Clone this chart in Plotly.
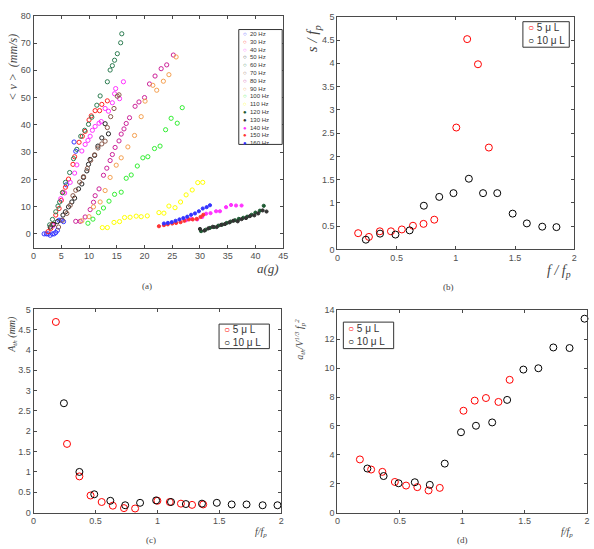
import plotly.graph_objects as go

W, H = 594, 549

# ---------------- Panel (a) data ----------------
freq_labels = ["20 Hz", "30 Hz", "40 Hz", "50 Hz", "60 Hz", "70 Hz", "80 Hz", "90 Hz",
               "100 Hz", "110 Hz", "120 Hz", "130 Hz", "140 Hz", "150 Hz", "160 Hz"]
freq_colors = ["#3333ff", "#ff2222", "#ff33ff", "#222222", "#2e7d52", "#8c5a4a", "#cc2299",
               "#f5a050", "#33ee33", "#ffff00", "#1d5a32", "#333333", "#ff33ff", "#ff3333", "#3333ff"]
freq_filled = [False] * 10 + [True] * 5

a20x = [1.9, 2.3, 2.6, 3.0, 3.4, 3.7, 4.0, 4.3, 4.6, 5.0, 5.4, 5.9, 7.3, 7.6]
a20y = [0, 0, 0, -0.5, 0, 0, 0.5, 1.3, 5, 5, 4.5, 18, 33.7, 30.3]
a30x = [2.6, 3.1, 3.4, 4.0, 4.6, 5.0, 5.3, 5.75, 6.3, 7.1, 7.4, 8.2, 8.8, 9.3, 10.0, 10.4, 11.1, 11.9, 12.3, 13.3]
a30y = [0.8, 2, 3.5, 6.9, 9.3, 12.3, 15.3, 17.1, 20.1, 25.5, 28.3, 33.6, 35.8, 37.6, 41.8, 43.3, 45.2, 45.2, 47.5, 48.8]
a40x = [3.5, 4.9, 5.6, 6.6, 7.4, 7.8, 8.7, 9.3, 9.8, 10.2, 10.6, 11.1, 11.8, 12.2, 12.9, 13.5, 14.2, 14.6, 14.8, 15.5, 16.2]
a40y = [3, 12.9, 15, 18.9, 22.3, 25.3, 30.4, 32.8, 34.3, 35.8, 38, 39.4, 40.6, 41.2, 46, 45, 48.1, 51.4, 53.3, 49.6, 55.8]
a50x = [3.0, 3.6, 4.3, 5.3, 5.75, 6.3, 6.9, 7.4, 8.1, 8.7, 9.0, 9.6, 9.9, 10.2, 11.0, 11.6, 12.3, 12.9, 13.5]
a50y = [2.5, 3.5, 4.5, 6.9, 8.1, 9.9, 11.7, 13.1, 16.5, 18.3, 20.7, 23.1, 25.5, 27.3, 28.8, 32.2, 35.2, 40.4, 36.7]
a60x = [2.9, 3.4, 4.0, 4.4, 4.7, 5.2, 5.75, 6.5, 7.2, 7.8, 8.5, 9.2, 9.9, 10.5, 11.4, 12.0, 13.3, 13.8, 14.2, 14.6, 15.1, 15.7, 15.9]
a60y = [3.3, 5.3, 8.1, 10.2, 11.7, 15.1, 18.9, 22.5, 27.6, 31, 35.8, 38, 40.2, 42.8, 47.2, 50.6, 55.8, 60.1, 61.7, 63.7, 66.1, 70.1, 73.4]
a70x = [4.5, 5.2, 6.0, 6.6, 7.1, 7.6, 8.3, 9.0, 9.7, 10.3, 11.0, 11.6, 12.3, 12.9, 13.3, 13.9, 14.5, 15.1, 15.4]
a70y = [2.5, 5, 7.5, 10.5, 14, 16, 19, 21, 24, 27, 29, 31.5, 33, 34, 39, 43, 46, 50.5, 51]
a80x = [7.6, 8.4, 9.3, 10.2, 10.8, 11.1, 11.8, 12.6, 13.2, 13.8, 14.2, 14.7, 15.4, 15.8, 16.3, 16.7, 17.3, 18.3, 19.0, 20.0, 20.9, 21.9, 23.0, 24.0, 25.2]
a80y = [4.6, 4.6, 6.2, 8.9, 11.6, 14, 16.5, 21.5, 24.1, 26.9, 29.1, 31.7, 34.1, 36.6, 38.5, 40.5, 42.6, 46.8, 48.4, 50, 55, 57.9, 60.6, 62, 65.6]
a90x = [8.7, 10.0, 10.8, 12.0, 12.9, 13.8, 14.9, 15.8, 17.0, 18.2, 19.4, 20.1, 21.5, 22.2, 23.4, 24.4, 25.7]
a90y = [4.8, 6.3, 9.9, 11.7, 15.9, 20.7, 25.2, 27.9, 31.9, 36.1, 43, 48.7, 54.5, 52.7, 56, 58.4, 64.9]
a100x = [9.8, 10.7, 11.7, 12.6, 13.6, 14.6, 15.8, 16.7, 17.6, 18.7, 19.7, 20.6, 21.8, 22.8, 23.8, 24.8, 25.9, 26.8]
a100y = [3.9, 5.4, 7.8, 9.5, 12.0, 14.5, 15.3, 20.4, 21.6, 24.9, 27.9, 28.3, 31.3, 32.2, 38.2, 42.4, 40.6, 46.3]
a110x = [12.4, 13.3, 14.5, 15.5, 16.4, 17.4, 18.5, 19.4, 20.5, 22.6, 23.5, 24.4, 25.5, 26.5, 27.5, 28.6, 29.6, 30.5]
a110y = [2.3, 2.3, 4.2, 4.5, 6.0, 6.1, 6.5, 6.3, 6.6, 7.8, 7.6, 10.2, 9.6, 11.7, 14.3, 16.1, 18.8, 18.9]
a120x = [30.2, 31.0, 31.8, 32.5, 33.3, 34.0, 34.8, 35.5, 36.3, 37.0, 37.8, 38.5, 39.3, 40.0, 40.8, 41.5]
a120y = [1.0, 1.5, 2.2, 2.5, 3.0, 3.4, 4.0, 4.5, 5.0, 5.5, 5.9, 6.3, 7.0, 7.8, 8.5, 10.3]
a130x = [30.0, 30.8, 31.5, 32.3, 33.0, 33.8, 34.5, 35.3, 36.0, 36.8, 37.5, 38.3, 39.0, 39.8, 40.5, 41.3, 42.0]
a130y = [1.8, 1.2, 2.0, 2.6, 2.5, 3.3, 3.6, 4.2, 4.8, 4.6, 5.4, 5.8, 6.5, 6.8, 7.5, 8.6, 8.2]
a140x = [27.5, 28.5, 29.5, 30.4, 31.1, 31.9, 32.9, 33.6, 34.7, 35.6, 36.5, 37.5]
a140y = [5.0, 5.5, 5.3, 6.2, 7.4, 7.6, 8.3, 8.3, 9.8, 10.6, 10.4, 10.4]
a150x = [22.6, 23.5, 24.2, 25.0, 25.7, 26.5, 27.2, 28.0, 28.7, 29.4, 30.1, 30.6]
a150y = [2.8, 3.2, 3.5, 3.8, 4.0, 4.3, 4.8, 5.3, 5.3, 5.5, 6.2, 7.0]
a160x = [23.5, 24.2, 24.9, 25.6, 26.3, 27.0, 27.7, 28.4, 29.1, 29.8, 30.5, 31.2, 31.8]
a160y = [3.8, 4.0, 4.3, 4.8, 5.3, 5.8, 6.3, 7.0, 7.5, 8.3, 9.3, 9.8, 10.5]

a_xs = [a20x, a30x, a40x, a50x, a60x, a70x, a80x, a90x, a100x, a110x, a120x, a130x, a140x, a150x, a160x]
a_ys = [a20y, a30y, a40y, a50y, a60y, a70y, a80y, a90y, a100y, a110y, a120y, a130y, a140y, a150y, a160y]

# ---------------- Panels (b), (c), (d) data ----------------
vol_labels = ["5 \u03bc L", "10 \u03bc L"]
vol_colors = ["#ff0000", "#000000"]

b5x = [0.175, 0.266, 0.358, 0.452, 0.544, 0.638, 0.727, 0.818, 1.004, 1.096, 1.187, 1.279]
b5y = [0.35, 0.27, 0.39, 0.39, 0.43, 0.51, 0.55, 0.64, 2.62, 4.52, 3.98, 2.19]
b10x = [0.24, 0.36, 0.49, 0.61, 0.73, 0.86, 0.98, 1.11, 1.23, 1.35, 1.48, 1.6, 1.73, 1.85]
b10y = [0.21, 0.34, 0.32, 0.41, 0.94, 1.13, 1.21, 1.52, 1.21, 1.21, 0.77, 0.56, 0.49, 0.48]

c5x = [0.18, 0.27, 0.37, 0.46, 0.55, 0.64, 0.73, 0.82, 1.0, 1.1, 1.19, 1.28, 1.37]
c5y = [4.69, 1.69, 0.89, 0.42, 0.26, 0.17, 0.11, 0.10, 0.29, 0.26, 0.22, 0.19, 0.20]
c10x = [0.245, 0.37, 0.49, 0.62, 0.74, 0.86, 0.99, 1.11, 1.23, 1.36, 1.48, 1.6, 1.72, 1.85, 1.97]
c10y = [2.69, 1.0, 0.45, 0.29, 0.18, 0.24, 0.30, 0.26, 0.21, 0.22, 0.24, 0.20, 0.20, 0.18, 0.18]

d5x = [0.18, 0.27, 0.36, 0.46, 0.55, 0.64, 0.73, 0.82, 1.01, 1.1, 1.19, 1.29, 1.38]
d5y = [3.68, 2.98, 2.82, 2.12, 1.87, 1.76, 1.53, 1.71, 7.05, 7.75, 7.93, 7.66, 9.19]
d10x = [0.24, 0.37, 0.49, 0.62, 0.74, 0.86, 0.99, 1.11, 1.24, 1.36, 1.49, 1.61, 1.73, 1.86, 1.98]
d10y = [3.05, 2.53, 2.03, 2.10, 1.92, 3.39, 5.56, 6.01, 6.24, 7.8, 9.9, 9.99, 11.43, 11.39, 13.42]

fig = go.Figure()

for lab, col, filled, xs, ys in zip(freq_labels, freq_colors, freq_filled, a_xs, a_ys):
    fig.add_trace(go.Scatter(
        x=xs, y=ys, mode="markers", name=lab, showlegend=False,
        marker=dict(symbol="circle" if filled else "circle-open", size=3.2 if filled else 4.2,
                    color=col, line=dict(width=1, color=col)),
        xaxis="x", yaxis="y", cliponaxis=False))

for ax, sets in [("2", [(b5x, b5y), (b10x, b10y)]),
                 ("3", [(c5x, c5y), (c10x, c10y)]),
                 ("4", [(d5x, d5y), (d10x, d10y)])]:
    for (xs, ys), lab, col in zip(sets, vol_labels, vol_colors):
        fig.add_trace(go.Scatter(
            x=xs, y=ys, mode="markers", name=lab, showlegend=False,
            marker=dict(symbol="circle-open", size=7, color=col, line=dict(width=1, color=col)),
            xaxis="x" + ax, yaxis="y" + ax, cliponaxis=False))

def px(x):
    return x / W

def py(y):
    return 1 - y / H

AXC = "#4a4a4a"
TICKF = dict(family="Liberation Sans, Arial", size=9, color="#505050")

def axis(domain, rng, dtick, anchor):
    return dict(domain=domain, range=rng, dtick=dtick, tick0=0, showline=True, linecolor=AXC,
                linewidth=1, mirror="ticks", ticks="inside", ticklen=3, tickcolor=AXC,
                tickfont=TICKF, showgrid=False, zeroline=False, anchor=anchor)

fig.update_layout(
    width=W, height=H, margin=dict(l=0, r=0, t=0, b=0),
    paper_bgcolor="white", plot_bgcolor="white", showlegend=False,
    xaxis=axis([px(31), px(284)], [0, 45], 5, "y"),
    yaxis=axis([py(247), py(11)], [-5, 80], 10, "x"),
    xaxis2=axis([px(339), px(579)], [0, 2], 0.5, "y2"),
    yaxis2=axis([py(249), py(12)], [0, 5], 0.5, "x2"),
    xaxis3=axis([px(31), px(282)], [0, 2], 0.5, "y3"),
    yaxis3=axis([py(517), py(310)], [0, 5], 0.5, "x3"),
    xaxis4=axis([px(339), px(592)], [0, 2], 0.5, "y4"),
    yaxis4=axis([py(517), py(311)], [0, 14], 2, "x4"),
)

shapes = []
annots = []
SERIF = "Liberation Serif, DejaVu Serif, serif"
LABC = "#444444"

# legend (a)
shapes.append(dict(type="rect", xref="paper", yref="paper", x0=px(239), x1=px(283), y0=py(142), y1=py(25),
                   line=dict(color="#333", width=1), fillcolor="white", layer="above"))
lines = []
for lab, col, filled in zip(freq_labels, freq_colors, freq_filled):
    sym = "\u25cf" if filled else "\u25cb"
    lines.append(f"<span style='color:{col}'>{sym}</span>  {lab}")
annots.append(dict(xref="paper", yref="paper", x=px(241.5), y=py(24.5), xanchor="left", yanchor="top",
                   align="left", showarrow=False, text="<br>".join(lines),
                   font=dict(family="Liberation Sans, Arial", size=6, color="#333")))

# legends (b), (c), (d)
for (x0, x1, y0, y1) in [(527, 574, 17, 43), (219, 270, 325, 350), (345, 396, 323, 350)]:
    shapes.append(dict(type="rect", xref="paper", yref="paper", x0=px(x0), x1=px(x1), y0=py(y1), y1=py(y0),
                       line=dict(color="#333", width=1), fillcolor="white", layer="above"))
    txt = "<br>".join(f"<span style='color:{c}'>\u25cb</span> {l}" for l, c in zip(vol_labels, vol_colors))
    annots.append(dict(xref="paper", yref="paper", x=px(x0 + 3), y=py((y0 + y1) / 2), xanchor="left",
                       yanchor="middle", align="left", showarrow=False, text=txt,
                       font=dict(family="Liberation Sans, Arial", size=10, color="#333")))

def lab(x, y, text, size, angle=0, family=SERIF):
    annots.append(dict(xref="paper", yref="paper", x=px(x), y=py(y), xanchor="center", yanchor="middle",
                       showarrow=False, text=text, textangle=angle,
                       font=dict(family=family, size=size, color=LABC)))

# axis labels
lab(269, 268, "<i>a(g)</i>", 13)
lab(10, 63, "<i>&lt; v &gt;  (mm/s)</i>", 12, -90)
lab(564, 271, "<i>f / f<sub>p</sub></i>", 14)
lab(315, 34, "<i>s / f<sub>p</sub></i>", 15, -90)
lab(262, 537, "<i>f/f<sub>p</sub></i>", 10)
lab(10, 335, "<i>A<sub>th</sub> (mm)</i>", 10, -90)
lab(572, 537, "<i>f/f<sub>p</sub></i>", 10)
lab(301, 340, "<i>a<sub>th</sub>/V<sup>1/3</sup> f<sub>p</sub><sup>2</sup></i>", 10, -90)

# panel labels
lab(146, 286, "(a)", 9)
lab(452, 287, "(b)", 9)
lab(150, 545, "(c)", 9)
lab(466, 545, "(d)", 9)

fig.update_layout(shapes=shapes, annotations=annots)
fig.write_html("out.html")
